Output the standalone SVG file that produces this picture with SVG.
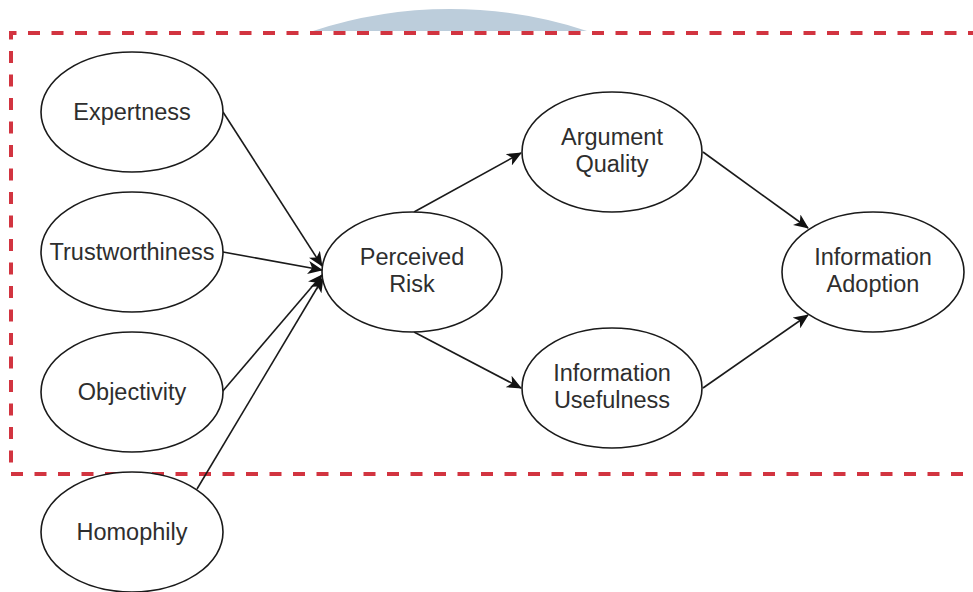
<svg xmlns="http://www.w3.org/2000/svg" width="973" height="592" viewBox="0 0 973 592">
  <style>
    .node ellipse { fill: #ffffff; stroke: #1a1a1a; stroke-width: 1.6; }
    .node text { font-family: "Liberation Sans", Arial, sans-serif; font-size: 23.5px; fill: #2e2e2e; text-anchor: middle; }
    .edge { fill: none; stroke: #1a1a1a; stroke-width: 1.6; marker-end: url(#arrow); }
    .frame { fill: none; stroke: #d23440; stroke-width: 4; stroke-dasharray: 12 11.5; }
  </style>
  <defs>
    <marker id="arrow" viewBox="0 0 15 13" refX="14" refY="6.5" markerWidth="15" markerHeight="13" markerUnits="userSpaceOnUse" orient="auto">
      <path d="M0,0 L15,6.5 L0,13 L4,6.5 Z" fill="#111111"/>
    </marker>
  </defs>

  <rect x="0" y="0" width="973" height="592" fill="#ffffff"/>

  <!-- pale blue disc peeking above the frame -->
  <path d="M313,31 A438,438 0 0 1 587,31 Z" fill="#bccddb"/>

  <!-- dashed boundary of the model -->
  <path class="frame" d="M980,33 L11,33 L11,474 L980,474"/>

  <g id="connectors">
    <path class="edge" d="M223,112 L322,266"/>
    <path class="edge" d="M223,252 L322,270"/>
    <path class="edge" d="M222,392 L322,275"/>
    <path class="edge" d="M197,489 L323,278"/>
    <path class="edge" d="M414,212 L521,153"/>
    <path class="edge" d="M414,332 L521,388"/>
    <path class="edge" d="M703,152 L808,228"/>
    <path class="edge" d="M703,388 L808,315"/>
  </g>

  <g id="expertness" class="node">
    <ellipse cx="132" cy="112" rx="91" ry="60"/>
    <text x="132" y="120">Expertness</text>
  </g>
  <g id="trustworthiness" class="node">
    <ellipse cx="132" cy="252" rx="91" ry="60"/>
    <text x="132" y="260">Trustworthiness</text>
  </g>
  <g id="objectivity" class="node">
    <ellipse cx="132" cy="392" rx="91" ry="60"/>
    <text x="132" y="400">Objectivity</text>
  </g>
  <g id="homophily" class="node">
    <ellipse cx="132" cy="532" rx="91" ry="60"/>
    <text x="132" y="540">Homophily</text>
  </g>
  <g id="perceived-risk" class="node">
    <ellipse cx="412" cy="272" rx="90" ry="60"/>
    <text x="412" y="265">Perceived</text>
    <text x="412" y="292">Risk</text>
  </g>
  <g id="argument-quality" class="node">
    <ellipse cx="612" cy="152" rx="90" ry="60"/>
    <text x="612" y="145">Argument</text>
    <text x="612" y="172">Quality</text>
  </g>
  <g id="information-usefulness" class="node">
    <ellipse cx="612" cy="388" rx="90" ry="60"/>
    <text x="612" y="381">Information</text>
    <text x="612" y="408">Usefulness</text>
  </g>
  <g id="information-adoption" class="node">
    <ellipse cx="873" cy="272" rx="91" ry="60"/>
    <text x="873" y="265">Information</text>
    <text x="873" y="292">Adoption</text>
  </g>
</svg>
